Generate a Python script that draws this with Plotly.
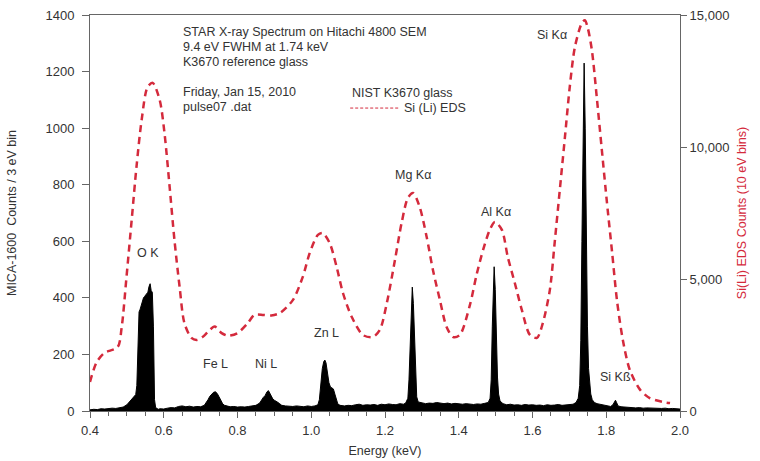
import plotly.graph_objects as go

# ---------------- data ----------------
# MICA-1600 microcalorimeter spectrum (counts / 3 eV bin)
energy_kev = [
    0.400, 0.410, 0.420, 0.430, 0.440, 0.450, 0.460, 0.470, 0.480, 0.490,
    0.500, 0.505, 0.510, 0.515, 0.520, 0.524, 0.527, 0.530, 0.533, 0.536,
    0.539, 0.542, 0.545, 0.548, 0.551, 0.554, 0.557, 0.560, 0.563, 0.566,
    0.569, 0.572, 0.575, 0.578, 0.585, 0.590, 0.600, 0.610, 0.620, 0.630,
    0.640, 0.650, 0.660, 0.670, 0.680, 0.690, 0.700, 0.710, 0.715, 0.720,
    0.725, 0.730, 0.735, 0.740, 0.745, 0.750, 0.755, 0.760, 0.765, 0.770,
    0.780, 0.790, 0.800, 0.810, 0.820, 0.830, 0.840, 0.850, 0.860, 0.865,
    0.870, 0.875, 0.880, 0.884, 0.888, 0.892, 0.896, 0.900, 0.905, 0.910,
    0.915, 0.920, 0.930, 0.940, 0.950, 0.960, 0.970, 0.980, 0.990, 1.000,
    1.010, 1.018, 1.022, 1.026, 1.030, 1.034, 1.037, 1.040, 1.044, 1.048,
    1.052, 1.056, 1.060, 1.064, 1.068, 1.072, 1.078, 1.090, 1.100, 1.110,
    1.120, 1.130, 1.140, 1.150, 1.160, 1.170, 1.180, 1.190, 1.200, 1.210,
    1.220, 1.230, 1.240, 1.250, 1.256, 1.262, 1.265, 1.268, 1.271, 1.274,
    1.277, 1.280, 1.283, 1.286, 1.290, 1.300, 1.310, 1.320, 1.330, 1.340,
    1.350, 1.360, 1.370, 1.380, 1.390, 1.400, 1.410, 1.420, 1.430, 1.440,
    1.450, 1.460, 1.470, 1.480, 1.485, 1.488, 1.491, 1.494, 1.496, 1.499,
    1.502, 1.505, 1.508, 1.512, 1.520, 1.530, 1.540, 1.550, 1.560, 1.570,
    1.580, 1.590, 1.600, 1.610, 1.620, 1.630, 1.640, 1.650, 1.660, 1.670,
    1.680, 1.690, 1.700, 1.710, 1.718, 1.724, 1.728, 1.731, 1.734, 1.737,
    1.740, 1.743, 1.746, 1.749, 1.752, 1.755, 1.758, 1.762, 1.768, 1.775,
    1.785, 1.795, 1.805, 1.812, 1.818, 1.822, 1.825, 1.828, 1.832, 1.840,
    1.850, 1.860, 1.870, 1.880, 1.890, 1.900, 1.910, 1.920, 1.930, 1.940,
    1.950, 1.960, 1.970, 1.980, 1.990, 2.000,
]
mica_counts = [
    4, 6, 5, 8, 7, 9, 10, 9, 12, 14,
    22, 30, 35, 42, 50, 58, 90, 250, 350, 360,
    372, 390, 400, 405, 410, 415, 420, 440, 450, 425,
    420, 300, 40, 12, 6, 8, 7, 10, 12, 11,
    16, 18, 15, 17, 14, 16, 15, 20, 28, 40,
    52, 60, 66, 68, 62, 50, 35, 25, 20, 18,
    15, 16, 14, 15, 14, 16, 18, 20, 28, 40,
    48, 55, 68, 72, 62, 48, 42, 38, 35, 30,
    25, 20, 18, 17, 16, 18, 17, 15, 18, 16,
    18, 22, 40, 100, 150, 175, 180, 170, 130, 100,
    85, 82, 78, 60, 40, 25, 20, 18, 20, 19,
    22, 24, 20, 22, 21, 23, 20, 24, 22, 25,
    23, 22, 26, 24, 28, 45, 110, 250, 380, 438,
    380, 250, 110, 50, 32, 28, 26, 28, 27, 30,
    28, 26, 28, 25, 27, 25, 24, 26, 25, 23,
    25, 24, 27, 30, 45, 110, 300, 480, 510, 430,
    250, 120, 60, 35, 26, 22, 24, 21, 22, 20,
    23, 21, 22, 20, 21, 19, 22, 20, 21, 23,
    20, 22, 22, 24, 30, 45, 90, 250, 600, 1000,
    1230, 1000, 600, 300, 150, 90, 60, 40, 30, 26,
    24, 20, 18, 16, 22, 34, 38, 30, 18, 15,
    14, 12, 13, 11, 12, 10, 11, 10, 9, 10,
    9, 10, 8, 9, 8, 7,
]

# NIST K3670 glass, Si(Li) EDS spectrum (counts / 10 eV bin)
eds_energy = [
    0.400, 0.418, 0.439, 0.475, 0.486, 0.499, 0.513, 0.526, 0.540, 0.556,
    0.570, 0.589, 0.602, 0.616, 0.629, 0.643, 0.656, 0.675, 0.690, 0.705,
    0.720, 0.738, 0.757, 0.774, 0.800, 0.828, 0.846, 0.870, 0.892, 0.915,
    0.950, 0.977, 0.996, 1.018, 1.031, 1.050, 1.069, 1.086, 1.110, 1.140,
    1.167, 1.186, 1.205, 1.227, 1.245, 1.262, 1.276, 1.294, 1.313, 1.330,
    1.349, 1.367, 1.385, 1.403, 1.430, 1.449, 1.466, 1.484, 1.498, 1.517,
    1.533, 1.552, 1.571, 1.593, 1.612, 1.628, 1.647, 1.660, 1.674, 1.688,
    1.701, 1.715, 1.734, 1.742, 1.750, 1.761, 1.775, 1.788, 1.802, 1.816,
    1.829, 1.845, 1.864, 1.892, 1.918, 1.954, 1.973,
]
eds_counts = [
    1100, 1850, 2200, 2420, 3180, 5080, 7230, 9240, 11020, 12270,
    12430, 11780, 10530, 8480, 6480, 4700, 3330, 2770, 2690, 2800,
    3000, 3200, 2950, 2850, 2950, 3330, 3640, 3640, 3620, 3710,
    4200, 5080, 5990, 6670, 6740, 6360, 5450, 4470, 3560, 2880,
    2800, 3070, 4090, 5720, 7120, 8070, 8260, 7730, 6590, 5340,
    4200, 3180, 2800, 2880, 4000, 5200, 6100, 6860, 7160, 6860,
    5830, 4850, 3830, 2880, 2770, 3330, 4580, 6360, 8370, 10380,
    12270, 13790, 14700, 14800, 14500, 13670, 11780, 9890, 7880, 5990,
    4200, 2690, 1550, 800, 490, 340, 300,
]

# peak labels (in data coordinates of the left axis)
peak_labels = ["O K", "Fe L", "Ni L", "Zn L", "Mg K\u03b1", "Al K\u03b1", "Si K\u03b1", "Si K\u00df"]
peak_label_x = [0.557, 0.740, 0.878, 1.041, 1.276, 1.501, 1.652, 1.824]
peak_label_y = [558, 166, 166, 277, 834, 704, 1329, 121]

x_ticks = [0.4, 0.6, 0.8, 1.0, 1.2, 1.4, 1.6, 1.8, 2.0]
y_ticks = [0, 200, 400, 600, 800, 1000, 1200, 1400]
y2_ticks = [0, 5000, 10000, 15000]

info_lines = ["STAR X-ray Spectrum on Hitachi 4800 SEM",
              "9.4 eV FWHM at 1.74 keV",
              "K3670 reference glass"]
date_lines = ["Friday, Jan 15, 2010", "pulse07 .dat"]

# ---------------- style ----------------
FONT = "Liberation Sans, Arial, Helvetica, sans-serif"
TXT = "#333333"
AX = "#666666"
RED = "#d42a3c"
TICKFONT = dict(size=13, color=TXT)
ANNFONT = dict(size=12.5, color=TXT)

fig = go.Figure()

fig.add_trace(go.Scatter(
    x=energy_kev, y=mica_counts, mode="lines",
    line=dict(color="black", width=1),
    fill="tozeroy", fillcolor="black",
    name="MICA-1600", showlegend=False, yaxis="y",
))

fig.add_trace(go.Scatter(
    x=eds_energy, y=eds_counts, mode="lines",
    line=dict(color=RED, width=2.5, dash="7px,5px", shape="spline", smoothing=0.8),
    name="Si (Li) EDS", showlegend=False, yaxis="y2",
))

fig.update_layout(
    width=760, height=461,
    margin=dict(l=90, r=80, t=15, b=50),
    paper_bgcolor="white", plot_bgcolor="white",
    font=dict(family=FONT, size=12, color=TXT),
    xaxis=dict(
        range=[0.4, 2.0], tickvals=x_ticks, tickformat=".1f", tickfont=TICKFONT,
        showline=True, linecolor=AX, linewidth=1, mirror=True,
        ticks="outside", ticklen=6, tickcolor=AX, ticklabelstandoff=1,
        minor=dict(dtick=0.05, ticks="outside", ticklen=4, tickcolor=AX),
        showgrid=False, zeroline=False, automargin=False,
        title=dict(text="Energy (keV)", standoff=9, font=dict(size=12.5, color=TXT)),
    ),
    yaxis=dict(
        range=[0, 1400], tickvals=y_ticks, tickfont=TICKFONT,
        showline=True, linecolor=AX, linewidth=1,
        ticks="outside", ticklen=7, tickcolor=AX, ticklabelstandoff=5,
        showgrid=False, zeroline=False, automargin=False,
        title=dict(text="MICA-1600  Counts / 3 eV bin", standoff=26,
                   font=dict(size=12.5, color=TXT)),
    ),
    yaxis2=dict(
        range=[0, 15000], tickvals=y2_ticks, tickformat=",d", tickfont=TICKFONT,
        overlaying="y", side="right",
        showline=True, linecolor=AX, linewidth=1,
        ticks="outside", ticklen=6, tickcolor=AX,
        showgrid=False, zeroline=False, automargin=False,
        title=dict(text="Si(Li) EDS Counts (10 eV bins)", standoff=8,
                   font=dict(size=12.5, color=RED)),
    ),
)

annotations = []
for i, t in enumerate(info_lines):
    annotations.append(dict(text=t, xref="paper", yref="paper",
                            x=0.154, y=0.957 - i * 0.038, font=ANNFONT,
                            xanchor="left", yanchor="middle", showarrow=False))
for i, t in enumerate(date_lines):
    annotations.append(dict(text=t, xref="paper", yref="paper",
                            x=0.154, y=0.806 - i * 0.038, font=ANNFONT,
                            xanchor="left", yanchor="middle", showarrow=False))
annotations.append(dict(text="NIST K3670 glass", xref="paper", yref="paper",
                        x=0.440, y=0.803, xanchor="left", yanchor="middle",
                        font=ANNFONT, showarrow=False))
annotations.append(dict(text="Si (Li) EDS", xref="paper", yref="paper",
                        x=0.529, y=0.765, xanchor="left", yanchor="middle",
                        font=ANNFONT, showarrow=False))
for t, px, py in zip(peak_labels, peak_label_x, peak_label_y):
    annotations.append(dict(text=t, x=px, y=py, xref="x", yref="y",
                            showarrow=False, font=ANNFONT))
fig.update_layout(annotations=annotations)

# legend sample line
fig.add_shape(type="line", xref="paper", yref="paper",
              x0=0.441, x1=0.525, y0=0.765, y1=0.765,
              line=dict(color=RED, width=1, dash="3px,2px"))

fig.write_html("out.html")
